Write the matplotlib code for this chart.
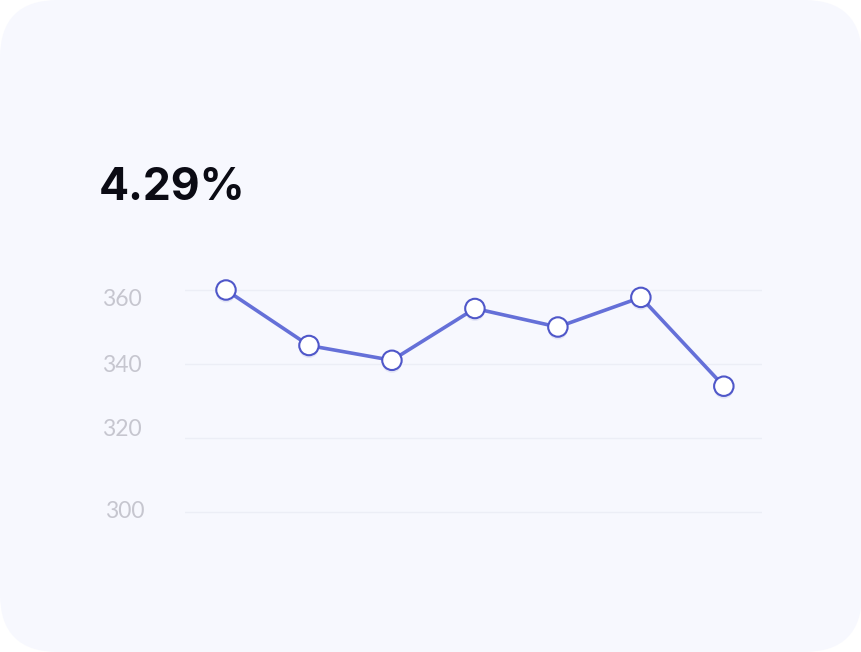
import matplotlib
matplotlib.use("Agg")
import matplotlib.pyplot as plt
from matplotlib.patches import FancyBboxPatch
import matplotlib.transforms as mtransforms
import matplotlib.patheffects as pe

# Data
x_index = [0, 1, 2, 3, 4, 5, 6]
values = [360, 345, 341, 355, 350, 358, 334]
y_ticks = [300, 320, 340, 360]
y_tick_labels = ["300", "320", "340", "360"]
headline = "4.29%"

W, H = 862, 652
fig = plt.figure(figsize=(W / 100, H / 100), dpi=100)
fig.patch.set_facecolor("white")

card = FancyBboxPatch((0, 0), W, H, boxstyle="round,pad=0,rounding_size=58",
                      transform=None, facecolor="#f7f8fe", edgecolor="none", zorder=-10)
fig.patches.append(card)

# axes geometry in pixels
left_px, right_px = 185, 762
top_px, bottom_px = 253, 549
ax = fig.add_axes([left_px / W, 1 - bottom_px / H, (right_px - left_px) / W, (bottom_px - top_px) / H])
ax.set_zorder(1)
ax.set_facecolor("none")
ax.set_xlim(-0.494, 6.46)
ax.set_ylim(290, 370)

for s in ax.spines.values():
    s.set_visible(False)

ax.set_yticks(y_ticks)
ax.set_yticklabels(y_tick_labels)
ax.set_xticks([])
ax.tick_params(axis="y", length=0, pad=31, labelsize=16.5, labelcolor="#c6c6cf")
for lab in ax.get_yticklabels():
    lab.set_fontfamily("Lato")
ax.grid(axis="y", color="#eceef6", linewidth=1)
ax.set_axisbelow(True)

# nudge tick labels slightly as in reference
offsets = {"360": -8, "340": 0, "320": 10, "300": 2}
hoff = {"360": 0, "340": 0, "320": 0, "300": -3}
for lab in ax.get_yticklabels():
    t = lab.get_text()
    dy = offsets.get(t, 0)
    dx = hoff.get(t, 0)
    lab.set_transform(lab.get_transform() + mtransforms.ScaledTranslation(-dx / 100, dy / 100, fig.dpi_scale_trans))

ax.plot(x_index, values, color="#6570d8", linewidth=2.6, zorder=2, solid_capstyle="round")
ax.plot(x_index, values, linestyle="none", marker="o", markersize=14,
        markerfacecolor="white", markeredgecolor="#4f57c9", markeredgewidth=1.5, zorder=3,
        path_effects=[pe.SimplePatchShadow(offset=(0, -2), shadow_rgbFace="#5a60c0", alpha=0.12),
                      pe.Normal()])

fig.text(99 / W, 1 - 200 / H, headline, fontsize=32, fontweight="bold",
         fontfamily="Inter", color="#0b0b14", ha="left", va="baseline", zorder=5)

fig.savefig("out.png", dpi=100, facecolor=fig.get_facecolor())
